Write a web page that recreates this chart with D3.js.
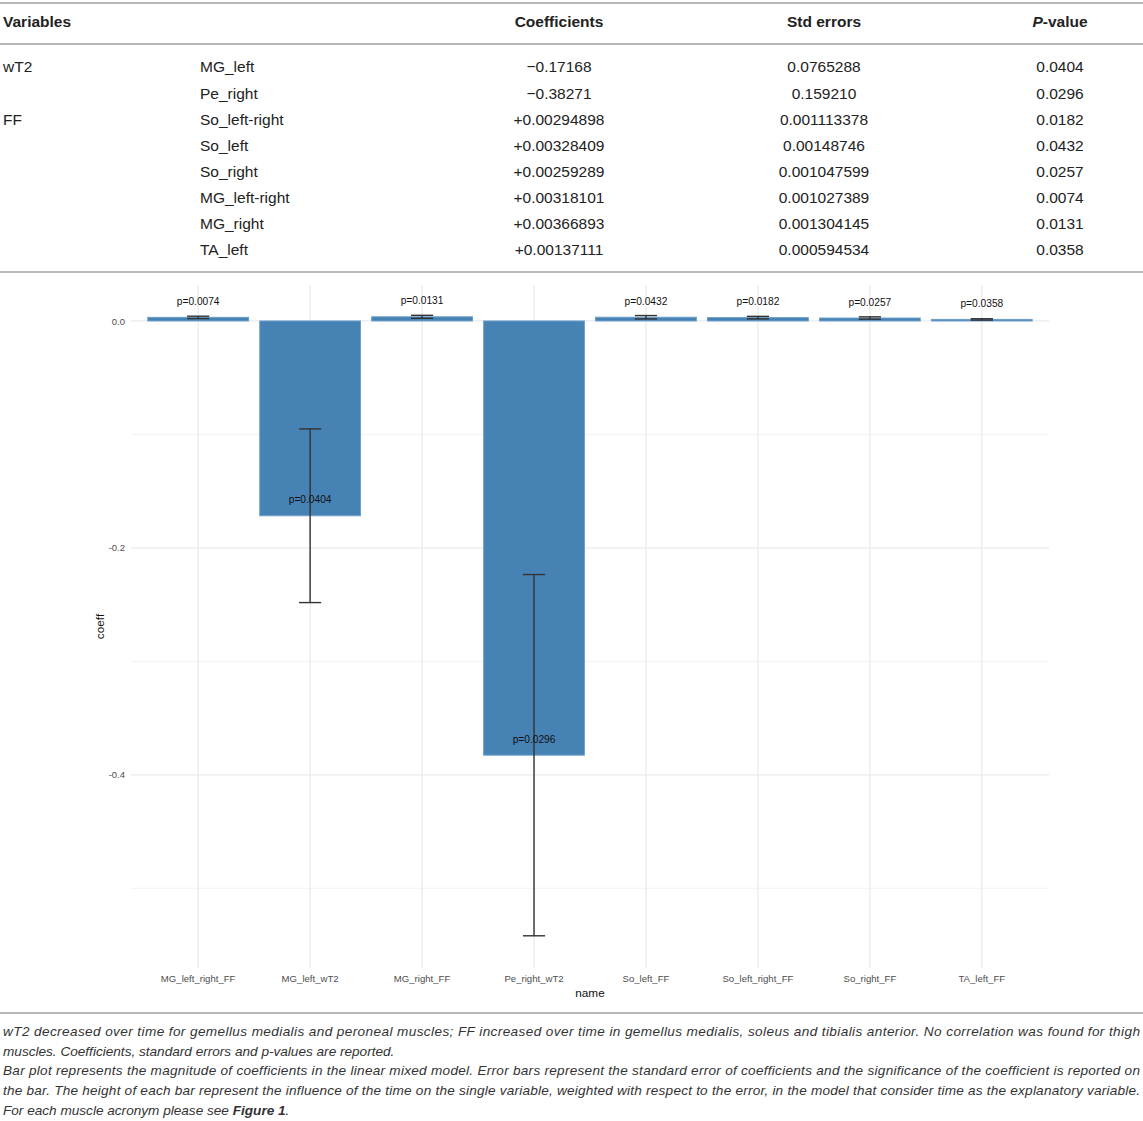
<!DOCTYPE html>
<html>
<head>
<meta charset="utf-8">
<script src="https://cdn.jsdelivr.net/npm/d3@7"></script>
<style>
  html, body { margin: 0; padding: 0; background: #fff; }
  svg { display: block; }
</style>
</head>
<body>
<svg id="fig" width="1143" height="1121"></svg>
<script>
// table data
const tableHeaders = ["Variables", "", "Coefficients", "Std errors", "P-value"];
const tableGroups = ["wT2", "", "FF", "", "", "", "", ""];
const tableVars = ["MG_left", "Pe_right", "So_left-right", "So_left", "So_right", "MG_left-right", "MG_right", "TA_left"];
const tableCoefs = ["\u22120.17168", "\u22120.38271", "+0.00294898", "+0.00328409", "+0.00259289", "+0.00318101", "+0.00366893", "+0.00137111"];
const tableErrs = ["0.0765288", "0.159210", "0.001113378", "0.00148746", "0.001047599", "0.001027389", "0.001304145", "0.000594534"];
const tablePvals = ["0.0404", "0.0296", "0.0182", "0.0432", "0.0257", "0.0074", "0.0131", "0.0358"];

// chart data
const names = ["MG_left_right_FF", "MG_left_wT2", "MG_right_FF", "Pe_right_wT2", "So_left_FF", "So_left_right_FF", "So_right_FF", "TA_left_FF"];
const coefs = [0.00318101, -0.17168, 0.00366893, -0.38271, 0.00328409, 0.00294898, 0.00259289, 0.00137111];
const stdErrs = [0.001027389, 0.0765288, 0.001304145, 0.159210, 0.00148746, 0.001113378, 0.001047599, 0.000594534];
const pLabels = ["p=0.0074", "p=0.0404", "p=0.0131", "p=0.0296", "p=0.0432", "p=0.0182", "p=0.0257", "p=0.0358"];
const yTicks = [0, -0.2, -0.4];
const yMinor = [-0.1, -0.3, -0.5];

const captionLines = [
  "wT2 decreased over time for gemellus medialis and peroneal muscles; FF increased over time in gemellus medialis, soleus and tibialis anterior. No correlation was found for thigh",
  "muscles. Coefficients, standard errors and p-values are reported.",
  "Bar plot represents the magnitude of coefficients in the linear mixed model. Error bars represent the standard error of coefficients and the significance of the coefficient is reported on",
  "the bar. The height of each bar represent the influence of the time on the single variable, weighted with respect to the error, in the model that consider time as the explanatory variable."
];

const FONT = "'Liberation Sans', Arial, Helvetica, sans-serif";
const svg = d3.select("#fig").attr("font-family", FONT);

/* ---------- table ---------- */
const rule = "#b8b8b8";
const colX = [3, 200, 559, 824, 1060];
const colAnchor = ["start", "start", "middle", "middle", "middle"];
const tbl = svg.append("g").attr("class", "table");

[3, 44, 272].forEach(y => tbl.append("line")
  .attr("x1", 0).attr("x2", 1143).attr("y1", y).attr("y2", y)
  .attr("stroke", rule).attr("stroke-width", 2));

tableHeaders.forEach((h, i) => {
  if (!h) return;
  const t = tbl.append("text")
    .attr("x", colX[i]).attr("y", 22).attr("dy", "0.35em")
    .attr("text-anchor", colAnchor[i])
    .attr("font-size", 15.5).attr("font-weight", "bold").attr("fill", "#222");
  if (h === "P-value") {
    t.append("tspan").attr("font-style", "italic").text("P");
    t.append("tspan").text("-value");
  } else t.text(h);
});

const rowY = d3.scaleLinear().domain([0, 7]).range([67, 250]);
const cols = [tableGroups, tableVars, tableCoefs, tableErrs, tablePvals];
cols.forEach((col, ci) => {
  tbl.selectAll(null).data(col).join("text")
    .attr("x", colX[ci])
    .attr("y", (d, i) => rowY(i))
    .attr("dy", "0.35em")
    .attr("text-anchor", colAnchor[ci])
    .attr("font-size", 15.5).attr("fill", "#222")
    .text(d => d);
});

/* ---------- chart ---------- */
const panel = { left: 131, right: 1049, top: 285, bottom: 968 };
const data = names.map((n, i) => ({ name: n, coef: coefs[i], se: stdErrs[i], label: pLabels[i] }));

const x = d3.scaleBand().domain(names)
  .range([panel.left, panel.right])
  .paddingInner(0.1).paddingOuter(0.15);
const y = d3.scaleLinear().domain([-0.5703, 0.0317]).range([panel.bottom, panel.top]);

const chart = svg.append("g").attr("class", "chart");
const grid = chart.append("g").attr("class", "grid");

grid.selectAll("line.minor").data(yMinor).join("line")
  .attr("class", "minor")
  .attr("x1", panel.left).attr("x2", panel.right)
  .attr("y1", d => y(d)).attr("y2", d => y(d))
  .attr("stroke", "#f2f2f2").attr("stroke-width", 1);
grid.selectAll("line.major").data(yTicks).join("line")
  .attr("class", "major")
  .attr("x1", panel.left).attr("x2", panel.right)
  .attr("y1", d => y(d)).attr("y2", d => y(d))
  .attr("stroke", "#ebebeb").attr("stroke-width", 1.3);
grid.selectAll("line.vert").data(names).join("line")
  .attr("class", "vert")
  .attr("x1", d => x(d) + x.bandwidth() / 2).attr("x2", d => x(d) + x.bandwidth() / 2)
  .attr("y1", panel.top).attr("y2", panel.bottom)
  .attr("stroke", "#ebebeb").attr("stroke-width", 1.3);

// bars
chart.append("g").selectAll("rect").data(data).join("rect")
  .attr("x", d => x(d.name))
  .attr("width", x.bandwidth())
  .attr("y", d => y(Math.max(0, d.coef)))
  .attr("height", d => Math.abs(y(d.coef) - y(0)))
  .attr("fill", "#4682b4")
  .attr("stroke", "#6b9fcc").attr("stroke-width", 1);

// error bars
const capW = x.bandwidth() * 0.22;
const eb = chart.append("g").attr("stroke", "#333").attr("stroke-width", 1.4)
  .selectAll("g").data(data).join("g")
  .attr("transform", d => `translate(${x(d.name) + x.bandwidth() / 2},0)`);
eb.append("line").attr("x1", 0).attr("x2", 0)
  .attr("y1", d => y(d.coef + d.se)).attr("y2", d => y(d.coef - d.se));
eb.append("line").attr("x1", -capW / 2).attr("x2", capW / 2)
  .attr("y1", d => y(d.coef + d.se)).attr("y2", d => y(d.coef + d.se));
eb.append("line").attr("x1", -capW / 2).attr("x2", capW / 2)
  .attr("y1", d => y(d.coef - d.se)).attr("y2", d => y(d.coef - d.se));

// p labels
chart.append("g").selectAll("text").data(data).join("text")
  .attr("x", d => x(d.name) + x.bandwidth() / 2)
  .attr("y", d => y(d.coef) - 16)
  .attr("dy", "0.35em")
  .attr("text-anchor", "middle")
  .attr("font-size", 10.2).attr("fill", "#111")
  .text(d => d.label);

// axes (ggplot style, no lines)
const yAxis = chart.append("g")
  .attr("transform", `translate(${panel.left},0)`)
  .call(d3.axisLeft(y).tickValues(yTicks).tickSize(0).tickPadding(6)
    .tickFormat(d => d3.format(".1f")(d).replace("\u2212", "-")));
yAxis.select(".domain").remove();
yAxis.selectAll("text").attr("font-size", 9.5).attr("fill", "#4d4d4d").attr("font-family", FONT);

const xAxis = chart.append("g")
  .attr("transform", `translate(0,${panel.bottom})`)
  .call(d3.axisBottom(x).tickSize(0).tickPadding(7));
xAxis.select(".domain").remove();
xAxis.selectAll("text").attr("font-size", 9.6).attr("fill", "#4d4d4d").attr("font-family", FONT);

chart.append("text")
  .attr("x", (panel.left + panel.right) / 2).attr("y", 993).attr("dy", "0.35em")
  .attr("text-anchor", "middle").attr("font-size", 11.8).attr("fill", "#111")
  .text("name");
chart.append("text")
  .attr("transform", `translate(100,${(panel.top + panel.bottom) / 2}) rotate(-90)`)
  .attr("dy", "0.35em")
  .attr("text-anchor", "middle").attr("font-size", 11.8).attr("fill", "#111")
  .text("coeff");

/* ---------- caption ---------- */
svg.append("line")
  .attr("x1", 0).attr("x2", 1143).attr("y1", 1013).attr("y2", 1013)
  .attr("stroke", rule).attr("stroke-width", 2);

const capY = d3.scaleLinear().domain([0, 4]).range([1031, 1110]);
const justified = [true, false, true, true];
const cap = svg.append("g").attr("font-size", 13.6).attr("font-style", "italic").attr("fill", "#333");
cap.selectAll("text.line").data(captionLines).join("text")
  .attr("class", "line")
  .attr("x", 3).attr("y", (d, i) => capY(i)).attr("dy", "0.35em")
  .each(function (d, i) {
    if (justified[i]) d3.select(this).attr("textLength", 1137).attr("lengthAdjust", "spacing");
  })
  .text(d => d);
const last = cap.append("text").attr("x", 3).attr("y", capY(4)).attr("dy", "0.35em");
last.append("tspan").text("For each muscle acronym please see ");
last.append("tspan").attr("font-weight", "bold").text("Figure 1");
last.append("tspan").text(".");
</script>
</body>
</html>
